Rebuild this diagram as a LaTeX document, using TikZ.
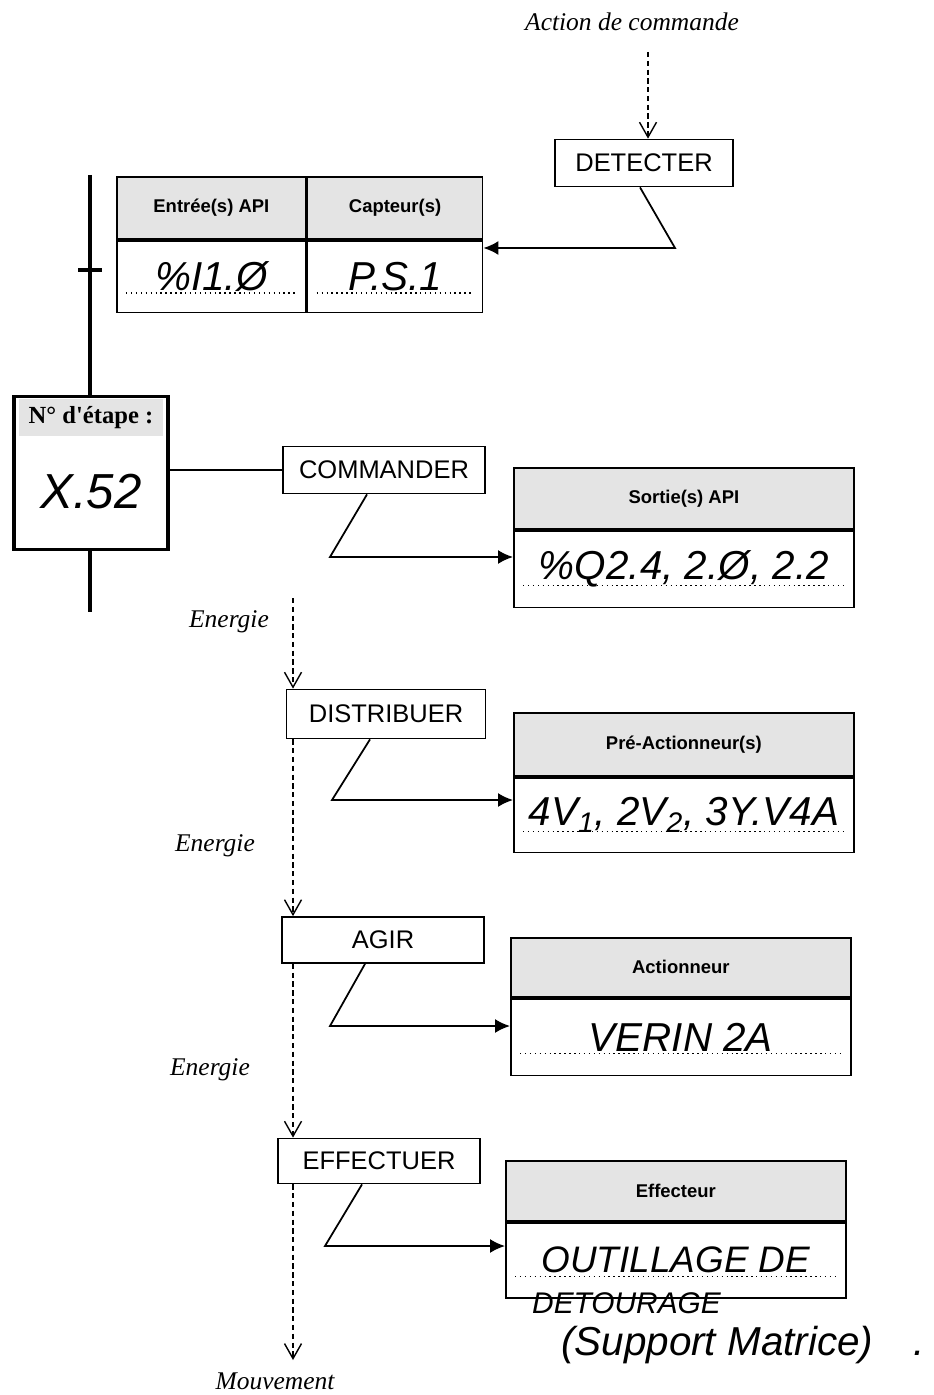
\documentclass[tikz,border=0pt]{standalone}
\usepackage{fontspec}
\setmainfont{Liberation Sans}
\newfontfamily\timesfont{Liberation Serif}
\usepackage{tikz}
\usetikzlibrary{positioning,calc,arrows.meta}
\definecolor{trame}{HTML}{E4E4E4}

\begin{document}
\begin{tikzpicture}[
  x=0.02cm, y=-0.02cm,
  fonction/.style={rectangle, draw, line width=1pt, minimum width=4.04cm,
    minimum height=0.94cm, inner sep=0pt, font=\fontsize{14.5}{16}\selectfont},
  entete/.style={rectangle, draw, line width=1pt, fill=trame, minimum width=6.8cm,
    minimum height=1.22cm, inner sep=0pt, font=\bfseries\fontsize{10.5}{12}\selectfont},
  valeur/.style={rectangle, draw, line width=1pt, minimum width=6.8cm,
    minimum height=1.52cm, inner sep=0pt, font=\itshape\fontsize{23}{25}\selectfont},
  note/.style={font=\timesfont\itshape\fontsize{14.5}{16}\selectfont},
  main/.style={font=\itshape\fontsize{23}{24}\selectfont},
  fleche/.style={-{Latex[length=0.3cm,width=0.28cm]}, line width=1pt},
  flux/.style={-{Straight Barb[length=0.3cm,width=0.34cm]}, dash pattern=on 3pt off 2pt, line width=0.8pt},
  grafcet/.style={line width=1.8pt},
]
\useasboundingbox (0,0) rectangle (933,1395);

% detection
\node[note] (action) at (632,22) {Action de commande};
\node[fonction, minimum width=3.56cm] (detecter) at (644,163) {DETECTER};
\coordinate (ordre) at (648,52);
\draw[flux] (ordre) -- (ordre |- detecter.north);

\node[entete, minimum width=3.78cm, minimum height=1.24cm, anchor=north west] (entreeT) at (116,176) {Entrée(s) API};
\node[entete, minimum width=3.5cm, minimum height=1.24cm, anchor=north west] (capteurT) at (entreeT.north east) {Capteur(s)};
\node[valeur, minimum width=3.78cm, minimum height=1.44cm, below=0pt of entreeT] (entreeV) {\%I1.Ø};
\node[valeur, minimum width=3.5cm, minimum height=1.44cm, below=0pt of capteurT] (capteurV) {P.S.1};
\coordinate (k0) at (675,248);
\draw[fleche] ([xshift=-0.08cm]detecter.south) -- (k0) -- (k0 -| capteurV.east);

% grafcet
\node[draw, line width=1.8pt, minimum width=3.08cm, minimum height=3.06cm] (etape) at (91,473) {};
\node[fill=trame, minimum width=2.9cm, minimum height=0.74cm, inner sep=0pt,
  font=\timesfont\bfseries\fontsize{14}{16}\selectfont, below=0.08cm of etape.north] (etapeT) {N° d'étape :};
\node[font=\itshape\fontsize{28}{30}\selectfont] (etapeV) at (91,492) {X.52};
\coordinate (g0) at (90,175);
\coordinate (g1) at (90,612);
\coordinate (tr) at (90,270);
\draw[grafcet] (g0) -- (g0 |- etape.north);
\draw[grafcet] (etape.south -| g1) -- (g1);
\draw[grafcet] ([xshift=-0.24cm]tr) -- ([xshift=0.24cm]tr);

% commande
\node[fonction] (commander) at (384,470) {COMMANDER};
\draw[line width=1pt] (etape.east |- commander) -- (commander.west);
\node[entete, anchor=north west] (sortieT) at (513,467) {Sortie(s) API};
\node[valeur, minimum height=1.54cm, below=0pt of sortieT] (sortieV) {\%Q2.4, 2.Ø, 2.2};
\coordinate (k1) at (330,557);
\draw[fleche] ([xshift=-0.34cm]commander.south) -- (k1) -- (k1 -| sortieV.west);

% chaine d'energie
\node[note] (energie1) at (229,622) {Energie};
\coordinate (e1) at (293,598);
\node[fonction, minimum width=3.98cm, minimum height=0.98cm] (distribuer) at (386,714) {DISTRIBUER};
\draw[flux] (e1) -- (e1 |- distribuer.north);
\node[entete, minimum height=1.26cm, anchor=north west] (preactT) at (513,712) {Pré-Actionneur(s)};
\node[valeur, minimum height=1.5cm, below=0pt of preactT] (preactV) {4V\textsubscript{1}, 2V\textsubscript{2}, 3Y.V4A};
\coordinate (k2) at (332,800);
\draw[fleche] ([xshift=-0.32cm]distribuer.south) -- (k2) -- (k2 -| preactV.west);

\node[note] (energie2) at (215,846) {Energie};
\node[fonction, minimum height=0.92cm] (agir) at (383,940) {AGIR};
\draw[flux] (distribuer.south -| e1) -- (agir.north -| e1);
\node[entete, minimum height=1.18cm, anchor=north west] (actionT) at (510,937) {Actionneur};
\node[valeur, minimum height=1.54cm, below=0pt of actionT] (actionV) {VERIN 2A};
\coordinate (k3) at (330,1026);
\draw[fleche] ([xshift=-0.36cm]agir.south) -- (k3) -- (k3 -| actionV.west);

\node[note] (energie3) at (210,1070) {Energie};
\node[fonction, minimum height=0.9cm] (effectuer) at (379,1161) {EFFECTUER};
\draw[flux] (agir.south -| e1) -- (effectuer.north -| e1);
\node[entete, minimum height=1.2cm, anchor=north west] (effectT) at (505,1160) {Effecteur};
\node[valeur, minimum height=1.5cm, font=\itshape\fontsize{21}{23}\selectfont, below=0pt of effectT] (effectV) {OUTILLAGE DE};
\coordinate (k4) at (325,1246);
\draw[fleche] ([xshift=-0.34cm]effectuer.south) -- (k4) -- (k4 -| effectV.west);

\coordinate (mvt) at (293,1360);
\draw[flux] (effectuer.south -| e1) -- (mvt);
\node[note] (mouvement) at (275,1381) {Mouvement};

\node[font=\itshape\fontsize{17}{18}\selectfont, anchor=west] (detourage) at (526,1303) {DETOURAGE};
\node[main, anchor=west] (support) at (555,1345) {(Support Matrice)\hspace{1em}.};

% pointilles
\foreach \v in {entreeV,capteurV,sortieV,preactV,actionV,effectV}
  \draw[dotted, line width=0.8pt] ([shift={(0.2cm,-0.33cm)}]\v.west) -- ([shift={(-0.2cm,-0.33cm)}]\v.east);
\end{tikzpicture}
\end{document}
